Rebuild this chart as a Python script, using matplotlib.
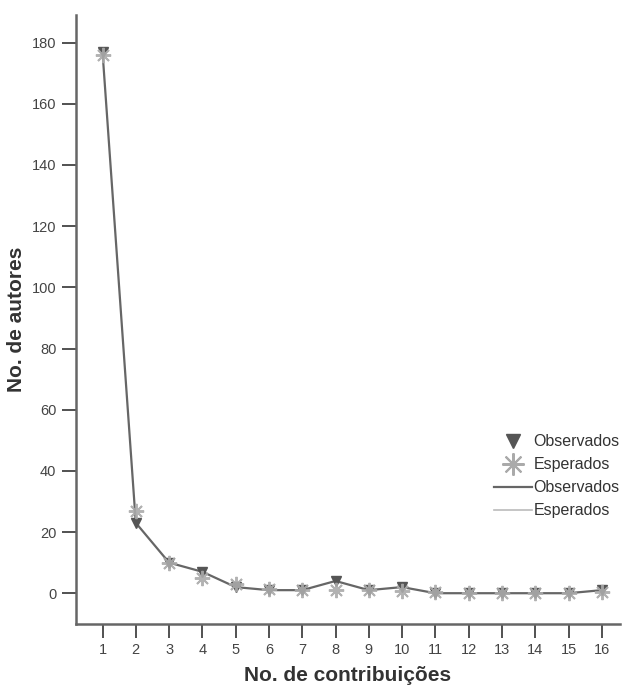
import matplotlib
matplotlib.use("Agg")
import matplotlib.pyplot as plt
from matplotlib.lines import Line2D

plt.rcParams['font.family'] = ['Liberation Sans', 'DejaVu Sans']

contrib = list(range(1, 17))
observados = [177, 23, 10, 7, 2, 1, 1, 4, 1, 2, 0, 0, 0, 0, 0, 1]
esperados = [176, 27, 10, 5, 3, 1.5, 1, 1, 1, 0.8, 0.3, 0.2, 0.2, 0.1, 0.1, 0.5]
yticks = [0, 20, 40, 60, 80, 100, 120, 140, 160, 180]

fig = plt.figure(figsize=(6.22, 6.87), dpi=100)
ax = fig.add_axes([0.122, 0.092, 0.875, 0.886])

dark = '#555555'
light = '#aaaaaa'
ax.plot(contrib, observados, color='#666666', lw=1.6, zorder=2)
ax.plot(contrib, observados, linestyle='none', marker='v', markersize=7,
        color=dark, zorder=3)
ax.plot(contrib, esperados, linestyle='none', marker=(8, 2, 0), markersize=11,
        markeredgewidth=1.4, color=light, alpha=0.9, zorder=4)

ax.set_xlim(0.2, 16.55)
ax.set_ylim(-10, 189)
ax.set_xticks(contrib)
ax.set_yticks(yticks)
for s in ['top', 'right']:
    ax.spines[s].set_visible(False)
for s in ['left', 'bottom']:
    ax.spines[s].set_color('#666666')
    ax.spines[s].set_linewidth(1.8)
ax.tick_params(axis='both', colors='#333333', labelcolor='#444444', labelsize=10.5,
               length=10, width=1.2, direction='out', pad=4)
ax.set_xlabel('No. de contribuições', fontsize=15, fontweight='bold', color='#333333',
              labelpad=6)
ax.set_ylabel('No. de autores', fontsize=15, fontweight='bold', color='#333333',
              labelpad=4)

handles = [
    Line2D([], [], linestyle='none', marker='v', markersize=10, color=dark),
    Line2D([], [], linestyle='none', marker=(8, 2, 0), markersize=16, markeredgewidth=1.5, color=light),
    Line2D([], [], color='#666666', lw=1.6),
    Line2D([], [], color='#bbbbbb', lw=1.2),
]
labels = ['Observados', 'Esperados', 'Observados', 'Esperados']
ax.legend(handles, labels, loc='lower right', bbox_to_anchor=(1.02, 0.155), frameon=False,
          fontsize=11.5, handlelength=2.4, handletextpad=0.1, labelspacing=0.5,
          labelcolor='#333333', borderpad=0.2)

fig.savefig('out.png', dpi=100)
